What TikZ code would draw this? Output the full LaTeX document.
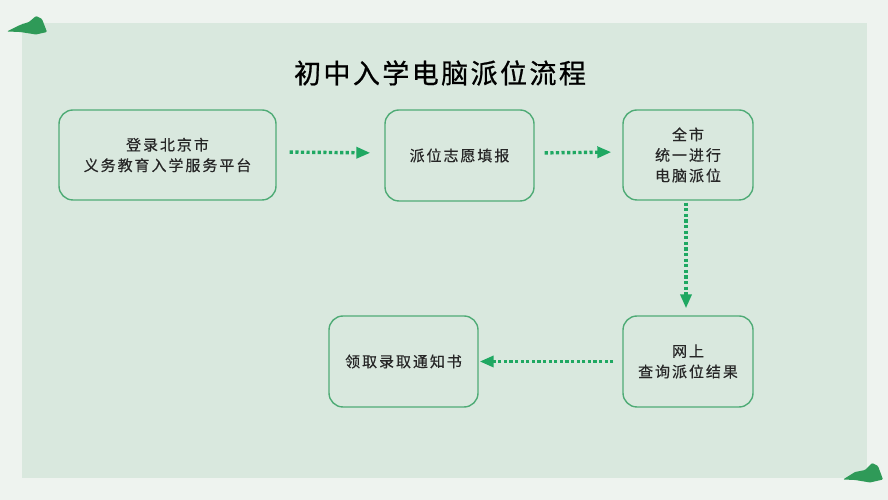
\documentclass[tikz,border=0pt]{standalone}
\usepackage{fontspec}
\usetikzlibrary{arrows.meta}
\newfontfamily\cjk[LetterSpace=13,FakeBold=0.4]{Noto Sans CJK SC}
\newfontfamily\cjktitle[LetterSpace=9,FakeBold=0.8]{Noto Sans CJK SC}
\definecolor{pagebg}{HTML}{EEF3EF}
\definecolor{panelbg}{HTML}{D9E8DE}
\definecolor{boxline}{HTML}{4FAB76}
\definecolor{arrowgreen}{HTML}{1FA862}
\definecolor{hillgreen}{HTML}{2F9A58}
\tikzset{
  flowbox/.style={draw=boxline,line width=1.4pt,rounded corners=14pt,align=center,
    font=\cjk\fontsize{15}{20.5}\selectfont,text=black!85,inner sep=0pt},
  flowarrow/.style={draw=arrowgreen,line width=3.4pt,dash pattern=on 3.2pt off 2.4pt,
    -{Triangle[length=14pt,width=11pt,fill=arrowgreen]}},
  hill/.style={fill=hillgreen,draw=none,rounded corners=1pt}
}
\begin{document}
\begin{tikzpicture}[x=1pt,y=1pt]
\useasboundingbox (0,0) rectangle (888,500);
\fill[pagebg] (0,0) rectangle (888,500);
\fill[panelbg] (22,22) rectangle (867,477);

% hills in the corners
\fill[hill] (7,468.5) -- (20,475) -- (29,478) -- (36,484) -- (42,481) -- (47,468) -- (36,465.5) -- (20,468) -- cycle;
\fill[hill] (843,20.5) -- (855,28) -- (865,30) -- (872,37) -- (878,34) -- (883,20.5) -- (870,17.5) -- (855,20) -- cycle;

\node (title) at (440,427) {\cjktitle\fontsize{27}{27}\selectfont 初中入学电脑派位流程};

\node[flowbox,minimum width=217pt,minimum height=90pt] (login) at (167.5,345) {登录北京市\\义务教育入学服务平台};
\node[flowbox,minimum width=149pt,minimum height=91pt] (fill) at (459.5,344.5) {派位志愿填报};
\node[flowbox,minimum width=130pt,minimum height=90pt] (assign) at (688,345) {全市\\统一进行\\电脑派位};
\node[flowbox,minimum width=130pt,minimum height=91pt] (query) at (688,138.5) {网上\\查询派位结果};
\node[flowbox,minimum width=149pt,minimum height=91pt] (notice) at (403.5,138.5) {领取录取通知书};

\draw[flowarrow,shorten <=13pt,shorten >=14pt] ([yshift=3pt]login.east) -- ([yshift=2.5pt]fill.west);
\draw[flowarrow,shorten <=10pt,shorten >=11pt] ([yshift=2.5pt]fill.east) -- ([yshift=3pt]assign.west);
\draw[flowarrow,shorten <=2pt,shorten >=7pt] ([xshift=-2pt]assign.south) -- ([xshift=-2pt]query.north);
\draw[flowarrow,shorten <=9pt,shorten >=1pt] (query.west) -- (notice.east);
\end{tikzpicture}
\end{document}
